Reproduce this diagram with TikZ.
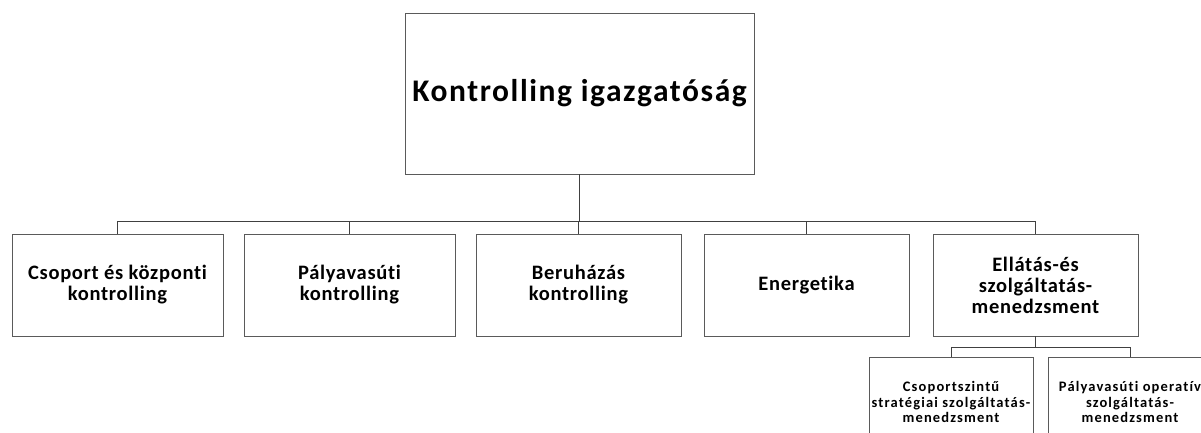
\documentclass[tikz,border=0pt]{standalone}
\usepackage{fontspec}
\setmainfont{Carlito}[Ligatures=NoCommon]
\newfontfamily\rootfont[LetterSpace=5,Ligatures=NoCommon]{Carlito}
\newfontfamily\childfont[LetterSpace=3.5,Ligatures=NoCommon]{Carlito}
\newfontfamily\subfont[LetterSpace=8,Ligatures=NoCommon]{Carlito}
\definecolor{linec}{HTML}{404040}
\definecolor{boxc}{HTML}{5A5A5A}
\begin{document}
\begin{tikzpicture}[x=1pt,y=-1pt,
  box/.style={draw=boxc, line width=0.8pt, fill=white, rectangle, align=center, inner sep=2pt},
  rootbox/.style={box, minimum width=349pt, minimum height=161pt, font=\rootfont\bfseries\fontsize{31.5}{36}\selectfont},
  childbox/.style={box, minimum height=102pt, font=\childfont\bfseries\fontsize{20.5}{21}\selectfont},
  subbox/.style={box, anchor=north, minimum width=164pt, minimum height=95pt},
  subtext/.style={align=center, inner sep=0pt, font=\subfont\bfseries\fontsize{14.5}{15.5}\selectfont},
  conn/.style={draw=linec, line width=0.9pt}
]
\clip (0,0) rectangle (1201,432);
\fill[white] (0,0) rectangle (1201,432);

\node[rootbox] (root) at (579.5,93.5) {Kontrolling igazgatóság};

\node[childbox, minimum width=211pt] (c1) at (117.5,285) {Csoport és központi\\kontrolling};
\node[childbox, minimum width=211pt] (c2) at (349.5,285) {Pályavasúti\\kontrolling};
\node[childbox, minimum width=205pt] (c3) at (578.5,285) {Beruházás\\kontrolling};
\node[childbox, minimum width=205pt] (c4) at (806.5,285) {Energetika};
\node[childbox, minimum width=205pt] (c5) at (1035.5,285) {Ellátás-és\\szolgáltatás-\\menedzsment};

\node[subbox] (s1) at (951,357) {};
\node[subbox] (s2) at (1130,357) {};
\node[subtext] (s1t) at (951,402) {Csoportszintű\\stratégiai szolgáltatás-\\menedzsment};
\node[subtext] (s2t) at (1130,402) {Pályavasúti operatív\\szolgáltatás-\\menedzsment};

\foreach \c in {c1,c2,c3,c4,c5}{
  \draw[conn] (root.south) -- ++(0,47.5) -| (\c.north);
}
\foreach \s in {s1,s2}{
  \draw[conn] (c5.south) -- ++(0,11) -| (\s.north);
}
\end{tikzpicture}
\end{document}
